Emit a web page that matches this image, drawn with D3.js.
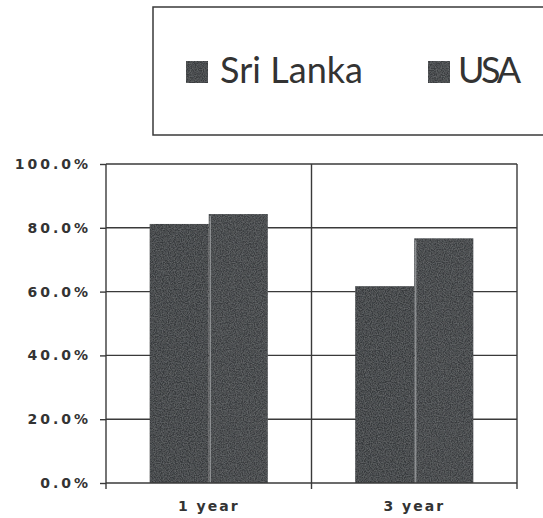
<!DOCTYPE html>
<html>
<head>
<meta charset="utf-8">
<script src="https://cdn.jsdelivr.net/npm/d3@7"></script>
<style>
  html, body { margin: 0; padding: 0; background: #fff; }
  svg { display: block; }
</style>
</head>
<body>
<svg id="chart" width="543" height="518"></svg>
<script>
// Survival rates by follow-up period
const categories = ["1 year", "3 year"];
const seriesNames = ["Sri Lanka", "USA"];
const sriLanka = [0.812, 0.617];
const usa = [0.843, 0.767];
const yTicks = [0, 0.2, 0.4, 0.6, 0.8, 1.0];

const svg = d3.select("#chart");
const plot = { left: 106, right: 517, top: 164, bottom: 483 };

const ink = "#333";
const lineCol = "#3a3a3a";
const barFill = ["#383b3e", "#3b3e41"];
const labelFont = "'DejaVu Sans', Verdana, sans-serif";

// grain for the bar fills
const defs = svg.append("defs");
const grain = defs.append("filter").attr("id", "grain").attr("x", 0).attr("y", 0).attr("width", 1).attr("height", 1);
grain.append("feTurbulence").attr("type", "fractalNoise").attr("baseFrequency", 0.85).attr("numOctaves", 2).attr("seed", 3).attr("result", "noise");
grain.append("feColorMatrix").attr("in", "noise").attr("type", "matrix")
  .attr("values", "0 0 0 0 0.45  0 0 0 0 0.47  0 0 0 0 0.48  0 0 0 0.4 -0.12").attr("result", "speck");
grain.append("feComposite").attr("in", "speck").attr("in2", "SourceGraphic").attr("operator", "in").attr("result", "clipped");
grain.append("feMerge").selectAll("feMergeNode").data(["SourceGraphic", "clipped"]).join("feMergeNode").attr("in", d => d);

const x0 = d3.scaleBand().domain(categories).range([plot.left, plot.right]).paddingInner(0).paddingOuter(0);
const x1 = d3.scaleBand().domain(seriesNames).range([0, x0.bandwidth()]).paddingInner(0).paddingOuter(0.74);
const y = d3.scaleLinear().domain([0, 1]).range([plot.bottom, plot.top]);

// horizontal gridlines
svg.append("g").selectAll("line").data(yTicks.filter(d => d > 0)).join("line")
  .attr("x1", plot.left).attr("x2", plot.right)
  .attr("y1", d => y(d)).attr("y2", d => y(d))
  .attr("stroke", lineCol).attr("stroke-width", 1.4);

// vertical separators between categories and the right border
svg.append("g").selectAll("line").data(categories.map(c => x0(c) + x0.bandwidth())).join("line")
  .attr("x1", d => d).attr("x2", d => d)
  .attr("y1", plot.top).attr("y2", plot.bottom)
  .attr("stroke", lineCol).attr("stroke-width", 1.4);

// bars
const rows = categories.map((c, i) => ({ cat: c, vals: [sriLanka[i], usa[i]] }));
const groups = svg.append("g").selectAll("g").data(rows).join("g")
  .attr("transform", d => `translate(${x0(d.cat)},0)`);
groups.selectAll("rect").data(d => d.vals.map((v, j) => ({ name: seriesNames[j], v, j }))).join("rect")
  .attr("x", d => x1(d.name))
  .attr("y", d => y(d.v))
  .attr("width", x1.bandwidth())
  .attr("height", d => y(0) - y(d.v))
  .attr("fill", d => barFill[d.j])
  .attr("filter", "url(#grain)");
// light edge on the left side of the USA bars
groups.selectAll("line.edge").data(d => [d.vals[1]]).join("line").attr("class", "edge")
  .attr("x1", x1("USA") + 1.5).attr("x2", x1("USA") + 1.5)
  .attr("y1", d => y(d) + 2).attr("y2", y(0))
  .attr("stroke", "#b8babc").attr("stroke-width", 1.2).attr("opacity", 0.7);

// y axis
const yAxis = d3.axisLeft(y).tickValues(yTicks).tickFormat(d3.format(".1%")).tickSize(6).tickPadding(9);
const gy = svg.append("g").attr("transform", `translate(${plot.left},0)`).call(yAxis);
gy.select(".domain").attr("stroke", lineCol).attr("stroke-width", 1.4).attr("d", `M0,${plot.top}V${plot.bottom}`);
gy.selectAll(".tick line").attr("stroke", lineCol).attr("stroke-width", 1.4);
gy.selectAll(".tick text")
  .attr("fill", ink).style("font-family", labelFont)
  .style("font-weight", "bold").style("font-size", "14px").style("letter-spacing", "3px");

// x axis
const xAxis = d3.axisBottom(x0).tickSize(0).tickPadding(18);
const gx = svg.append("g").attr("transform", `translate(0,${plot.bottom})`).call(xAxis);
gx.select(".domain").attr("stroke", lineCol).attr("stroke-width", 1.4).attr("d", `M${plot.left},0H${plot.right}`);
gx.selectAll(".tick text")
  .attr("fill", ink).style("font-family", labelFont)
  .style("font-weight", "bold").style("font-size", "14px").style("letter-spacing", "2px");
// category boundary ticks under the axis
gx.append("g").selectAll("line").data([plot.left, ...categories.map(c => x0(c) + x0.bandwidth())]).join("line")
  .attr("x1", d => d).attr("x2", d => d).attr("y1", 0).attr("y2", 6)
  .attr("stroke", lineCol).attr("stroke-width", 1.4);

// legend
const legend = svg.append("g");
legend.append("rect").attr("x", 153).attr("y", 7).attr("width", 420).attr("height", 128)
  .attr("fill", "none").attr("stroke", lineCol).attr("stroke-width", 1.5);
const legendItems = [
  { name: seriesNames[0], sx: 186, tx: 220, len: 143 },
  { name: seriesNames[1], sx: 428, tx: 458, len: 63 }
];
legendItems.forEach((d, j) => {
  legend.append("rect").attr("x", d.sx).attr("y", 61).attr("width", 22).attr("height", 22)
    .attr("fill", barFill[j]).attr("filter", "url(#grain)");
  legend.append("text").attr("x", d.tx).attr("y", 83).text(d.name)
    .attr("textLength", d.len).attr("lengthAdjust", "spacing")
    .attr("fill", "#333").style("font-family", "Lato, 'Open Sans', sans-serif").style("font-size", "36px");
});
</script>
</body>
</html>
